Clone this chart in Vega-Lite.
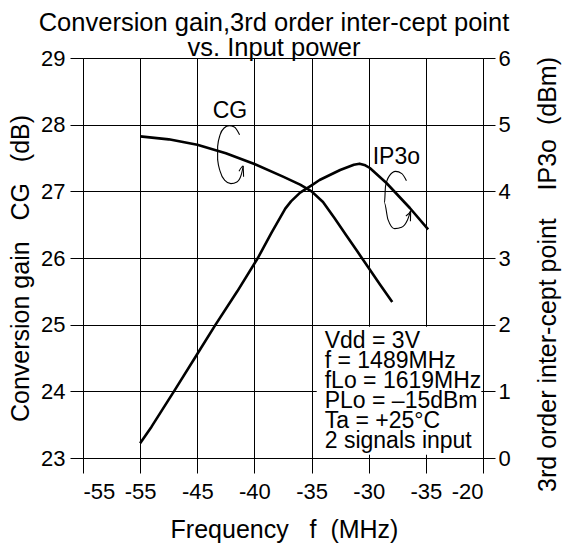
{
  "$schema": "https://vega.github.io/schema/vega-lite/v6.json",
  "width": 400,
  "height": 400,
  "autosize": {"type": "none"},
  "padding": {"left": 83, "top": 58, "right": 83, "bottom": 90},
  "background": "white",
  "config": {
    "view": {"stroke": null},
    "font": "Liberation Sans",
    "axis": {
      "labelFont": "Liberation Sans",
      "labelFontSize": 22,
      "labelColor": "black",
      "titleFont": "Liberation Sans",
      "titleFontSize": 25,
      "titleFontWeight": "normal",
      "titleColor": "black",
      "domainColor": "black",
      "tickColor": "black",
      "gridColor": "black",
      "gridOpacity": 1,
      "gridWidth": 1,
      "tickWidth": 1,
      "domainWidth": 1
    }
  },
  "title": {
    "text": ["Conversion gain,3rd order inter-cept point", "vs. Input power"],
    "font": "Liberation Sans",
    "fontSize": 25.5,
    "fontWeight": "normal",
    "color": "black",
    "lineHeight": 25.3,
    "anchor": "middle",
    "frame": "group",
    "dx": -9,
    "dy": 36,
    "baseline": "bottom",
    "offset": -4
  },
  "datasets": {
    "cg": [
      {"x": -50, "y": 27.825}, {"x": -47.5, "y": 27.78}, {"x": -45, "y": 27.7},
      {"x": -42.5, "y": 27.57}, {"x": -40, "y": 27.41}, {"x": -37.5, "y": 27.22},
      {"x": -36, "y": 27.1}, {"x": -35, "y": 27.0}, {"x": -34, "y": 26.84},
      {"x": -33, "y": 26.6}, {"x": -32, "y": 26.35}, {"x": -31, "y": 26.1},
      {"x": -30, "y": 25.85}, {"x": -29, "y": 25.6}, {"x": -27.94, "y": 25.34}
    ],
    "ip3": [
      {"x": -50, "y": 0.22}, {"x": -49, "y": 0.47}, {"x": -48, "y": 0.74},
      {"x": -47, "y": 1.01}, {"x": -45, "y": 1.56}, {"x": -43.4, "y": 2.0},
      {"x": -41.5, "y": 2.5}, {"x": -39.7, "y": 3.0}, {"x": -38.5, "y": 3.38},
      {"x": -37.3, "y": 3.74}, {"x": -36.8, "y": 3.85}, {"x": -36, "y": 3.98},
      {"x": -35, "y": 4.09}, {"x": -34.3, "y": 4.17}, {"x": -32.5, "y": 4.32},
      {"x": -31.3, "y": 4.4}, {"x": -30.8, "y": 4.415}, {"x": -30.3, "y": 4.39},
      {"x": -29.9, "y": 4.35}, {"x": -28.45, "y": 4.125}, {"x": -26.4, "y": 3.75},
      {"x": -24.8, "y": 3.43}
    ],
    "loops": [
      {"g": "a", "i": 0, "x": -41.3, "y": 27.85},
      {"g": "a", "i": 1, "x": -41.76, "y": 27.965},
      {"g": "a", "i": 2, "x": -42.21, "y": 27.985},
      {"g": "a", "i": 3, "x": -42.65, "y": 27.95},
      {"g": "a", "i": 4, "x": -43.0, "y": 27.85},
      {"g": "a", "i": 5, "x": -43.22, "y": 27.675},
      {"g": "a", "i": 6, "x": -43.22, "y": 27.475},
      {"g": "a", "i": 7, "x": -43.0, "y": 27.3},
      {"g": "a", "i": 8, "x": -42.59, "y": 27.165},
      {"g": "a", "i": 9, "x": -42.06, "y": 27.115},
      {"g": "a", "i": 10, "x": -41.53, "y": 27.14},
      {"g": "a", "i": 11, "x": -41.15, "y": 27.25},
      {"g": "a", "i": 12, "x": -40.98, "y": 27.38},
      {"g": "ah", "i": 0, "x": -41.35, "y": 27.3},
      {"g": "ah", "i": 1, "x": -40.98, "y": 27.38},
      {"g": "ah", "i": 2, "x": -40.95, "y": 27.22},
      {"g": "b", "i": 0, "x": -26.7, "y": 27.16},
      {"g": "b", "i": 1, "x": -27.1, "y": 27.265},
      {"g": "b", "i": 2, "x": -27.65, "y": 27.3},
      {"g": "b", "i": 3, "x": -28.18, "y": 27.235},
      {"g": "b", "i": 4, "x": -28.53, "y": 27.075},
      {"g": "b", "i": 5, "x": -28.62, "y": 26.825},
      {"g": "b", "i": 6, "x": -28.32, "y": 26.58},
      {"g": "b", "i": 7, "x": -27.73, "y": 26.44},
      {"g": "b", "i": 8, "x": -27.12, "y": 26.46},
      {"g": "b", "i": 9, "x": -26.62, "y": 26.565},
      {"g": "b", "i": 10, "x": -26.32, "y": 26.71},
      {"g": "bh", "i": 0, "x": -26.75, "y": 26.63},
      {"g": "bh", "i": 1, "x": -26.32, "y": 26.71},
      {"g": "bh", "i": 2, "x": -26.35, "y": 26.55}
    ],
    "labels": [
      {"x": -42.14, "y": 28.1, "t": "CG"},
      {"x": -27.58, "y": 27.415, "t": "IP3o"}
    ],
    "box": [
      {"x": -34.55, "x2": -20.15, "y": 23.05, "y2": 24.97}
    ],
    "note": [
      {"x": -33.85, "y": 24.65, "t": "Vdd = 3V\nf = 1489MHz\nfLo = 1619MHz\nPLo = \u201315dBm\nTa = +25\u00b0C\n2 signals input"}
    ]
  },
  "encoding": {
    "x": {
      "field": "x",
      "type": "quantitative",
      "scale": {"domain": [-55, -20], "nice": false, "zero": false},
      "axis": {
        "values": [-55, -50, -45, -40, -35, -30, -25, -20],
        "labelExpr": "datum.value == -50 ? '-55' : datum.value == -25 ? '-35' : '' + datum.value",
        "tickSize": 15,
        "labelPadding": 8,
        "grid": true,
        "title": "Frequency\u00a0\u00a0\u00a0f\u00a0\u00a0(MHz)",
        "titleX": 201,
        "titleY": 79,
        "titleBaseline": "alphabetic",
        "titleAnchor": "middle",
        "titleAlign": "center"
      }
    }
  },
  "layer": [
    {
      "encoding": {
        "y": {
          "field": "y",
          "type": "quantitative",
          "scale": {"domain": [23, 29], "nice": false, "zero": false},
          "axis": {
            "orient": "left",
            "values": [23, 24, 25, 26, 27, 28, 29],
            "tickSize": 13,
            "labelPadding": 5,
            "grid": true,
            "title": "Conversion gain\u00a0\u00a0\u00a0CG\u00a0\u00a0\u00a0(dB)",
            "titleAngle": 270,
            "titleX": -50,
            "titleY": 210,
            "titleBaseline": "bottom",
            "titleAlign": "center",
            "titleAnchor": "middle"
          }
        }
      },
      "layer": [
        {
          "data": {"name": "box"},
          "mark": {"type": "rect", "fill": "white", "stroke": null},
          "encoding": {"x2": {"field": "x2"}, "y2": {"field": "y2"}}
        },
        {
          "data": {"name": "cg"},
          "mark": {"type": "line", "color": "black", "strokeWidth": 2.6, "strokeJoin": "round"}
        },
        {
          "data": {"name": "loops"},
          "mark": {"type": "line", "color": "black", "strokeWidth": 1.1, "interpolate": "monotone"},
          "encoding": {
            "detail": {"field": "g", "type": "nominal"},
            "order": {"field": "i", "type": "quantitative"}
          }
        },
        {
          "data": {"name": "labels"},
          "mark": {"type": "text", "font": "Liberation Sans", "fontSize": 23, "color": "black", "align": "center", "baseline": "alphabetic"},
          "encoding": {"text": {"field": "t", "type": "nominal"}}
        },
        {
          "data": {"name": "note"},
          "mark": {"type": "text", "font": "Liberation Sans", "fontSize": 23, "color": "black", "align": "left", "baseline": "alphabetic", "lineBreak": "\n", "lineHeight": 20},
          "encoding": {"text": {"field": "t", "type": "nominal"}}
        }
      ]
    },
    {
      "data": {"name": "ip3"},
      "mark": {"type": "line", "color": "black", "strokeWidth": 2.6, "strokeJoin": "round"},
      "encoding": {
        "y": {
          "field": "y",
          "type": "quantitative",
          "scale": {"domain": [0, 6], "nice": false, "zero": false},
          "axis": {
            "orient": "right",
            "values": [0, 1, 2, 3, 4, 5, 6],
            "tickSize": 12,
            "labelPadding": 3,
            "grid": false,
            "title": "3rd order inter-cept point\u00a0\u00a0\u00a0\u00a0IP3o\u00a0\u00a0(dBm)",
            "titleAngle": 270,
            "titleX": 52,
            "titleY": 216,
            "titleBaseline": "top",
            "titleAlign": "center",
            "titleAnchor": "middle"
          }
        }
      }
    }
  ],
  "resolve": {"scale": {"y": "independent"}}
}
